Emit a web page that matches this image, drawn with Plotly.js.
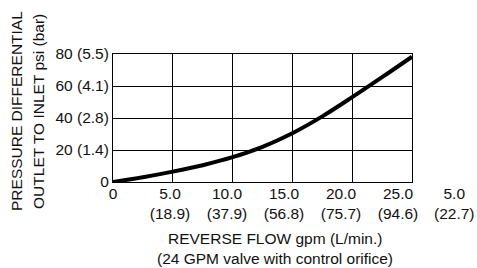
<!DOCTYPE html>
<html>
<head>
<meta charset="utf-8">
<script src="https://cdn.plot.ly/plotly-3.0.1.min.js"></script>
<style>
  html, body { margin: 0; padding: 0; background: #fff; }
  #chart { width: 477px; height: 268px; }
</style>
</head>
<body>
<div id="chart"></div>
<script>
// ---- data ----
const flowGpm = [0, 2.5, 5, 7.5, 10, 12.5, 15, 17.5, 20, 22.5, 25];
const pressurePsi = [0, 3.0, 6.5, 10.5, 15.5, 22, 30.5, 41, 53, 65.5, 78.3];

const xTickVals = [0, 5, 10, 15, 20, 25];
const xTickText = ['0', '5.0<br>(18.9)', '10.0<br>(37.9)', '15.0<br>(56.8)', '20.0<br>(75.7)', '25.0<br>(94.6)'];
const xExtraTickVal = 30;
const xExtraTickText = '5.0<br>(22.7)';

const yTickVals = [0, 20, 40, 60, 80];
const yTickText = ['0', '20 (1.4)', '40 (2.8)', '60 (4.1)', '80 (5.5)'];

const yTitleLines = ['PRESSURE DIFFERENTIAL', 'OUTLET TO INLET psi (bar)'];
const xTitleLines = ['REVERSE FLOW gpm (L/min.)', '(24 GPM valve with control orifice)'];

// ---- chart ----
const FONT = 'Liberation Sans, Arial, Helvetica, sans-serif';
const FS = 15.5;
const labelAxisMax = 26.23; // label axis scale (labels slightly tighter than grid)

const traces = [
  {
    x: flowGpm, y: pressurePsi, type: 'scatter', mode: 'lines',
    line: { color: '#000', width: 4, shape: 'spline', smoothing: 1 },
    hoverinfo: 'skip', showlegend: false
  },
  {
    x: [], y: [], xaxis: 'x2', type: 'scatter', mode: 'lines', showlegend: false
  }
];

const layout = {
  width: 477, height: 268,
  margin: { l: 113, r: 65, t: 54, b: 86, pad: 0 },
  paper_bgcolor: '#fff', plot_bgcolor: '#fff',
  font: { family: FONT, size: FS, color: '#111' },
  showlegend: false,
  xaxis: {
    range: [0, 25], tickvals: xTickVals, showticklabels: false,
    showgrid: true, gridcolor: '#000', gridwidth: 1,
    zeroline: false, showline: true, mirror: true, linecolor: '#000', linewidth: 1,
    ticks: '', fixedrange: true
  },
  xaxis2: {
    overlaying: 'x', side: 'bottom', anchor: 'y',
    range: [0, labelAxisMax], tickvals: xTickVals, ticktext: xTickText,
    showgrid: false, zeroline: false, showline: false, ticks: '',
    tickfont: { family: FONT, size: FS, color: '#111' }, fixedrange: true
  },
  yaxis: {
    range: [0, 80], tickvals: yTickVals, ticktext: yTickText,
    showgrid: true, gridcolor: '#000', gridwidth: 1,
    zeroline: false, showline: true, mirror: true, linecolor: '#000', linewidth: 1,
    ticks: '', ticklabelstandoff: 0,
    tickfont: { family: FONT, size: FS, color: '#111' }, fixedrange: true
  },
  annotations: [
    {
      xref: 'paper', yref: 'paper', x: xExtraTickVal / labelAxisMax, y: 0,
      xanchor: 'center', yanchor: 'top', yshift: -1, align: 'center',
      text: xExtraTickText, showarrow: false,
      font: { family: FONT, size: FS, color: '#111' }
    },
    {
      xref: 'paper', yref: 'paper', x: -0.321, y: 0.555,
      xanchor: 'center', yanchor: 'middle', textangle: -90,
      text: yTitleLines[0], showarrow: false,
      font: { family: FONT, size: FS, color: '#111' }
    },
    {
      xref: 'paper', yref: 'paper', x: -0.2475, y: 0.555,
      xanchor: 'center', yanchor: 'middle', textangle: -90,
      text: yTitleLines[1], showarrow: false,
      font: { family: FONT, size: FS, color: '#111' }
    },
    {
      xref: 'paper', yref: 'paper', x: 0.542, y: -0.4375,
      xanchor: 'center', yanchor: 'middle',
      text: xTitleLines[0], showarrow: false,
      font: { family: FONT, size: FS, color: '#111' }
    },
    {
      xref: 'paper', yref: 'paper', x: 0.542, y: -0.594,
      xanchor: 'center', yanchor: 'middle',
      text: xTitleLines[1], showarrow: false,
      font: { family: FONT, size: FS, color: '#111' }
    }
  ]
};

Plotly.newPlot('chart', traces, layout, { staticPlot: true, displayModeBar: false });
</script>
</body>
</html>
